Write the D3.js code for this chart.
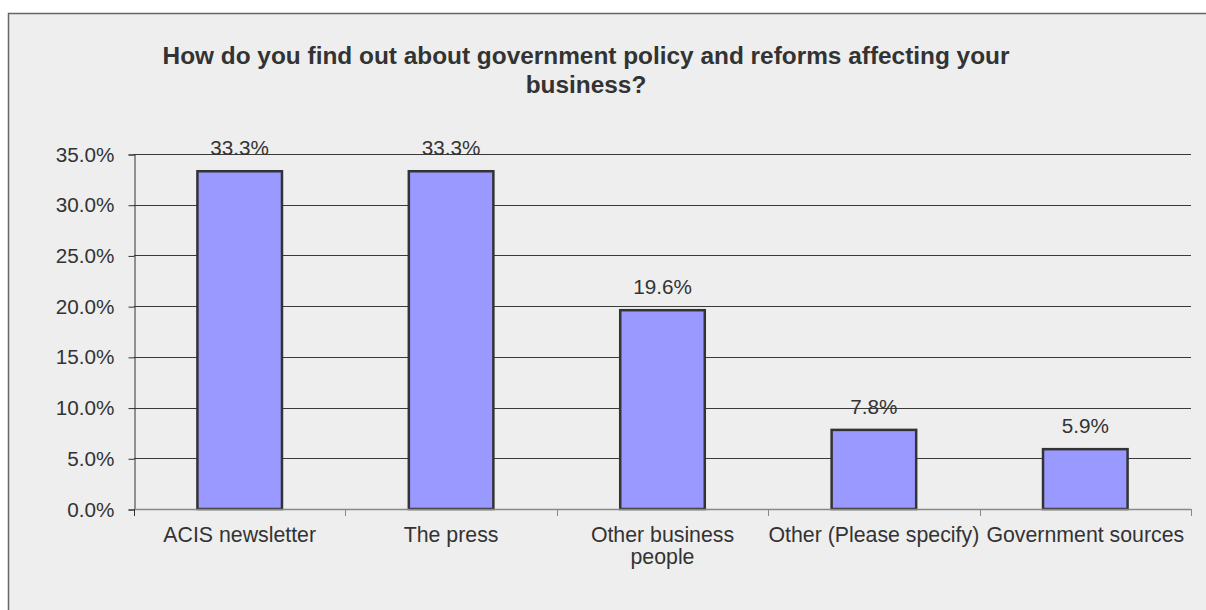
<!DOCTYPE html>
<html>
<head>
<meta charset="utf-8">
<script src="https://cdn.jsdelivr.net/npm/d3@7"></script>
<style>
  html, body { margin: 0; padding: 0; background: #ffffff; }
  svg { display: block; }
  text { font-family: "Liberation Sans", Arial, sans-serif; fill: #333333; }
</style>
</head>
<body>
<svg id="chart" width="1206" height="610"></svg>
<script>
// Survey responses: share of respondents per information source
const categories = ["ACIS newsletter", "The press", "Other business people", "Other (Please specify)", "Government sources"];
const categoryLines = [["ACIS newsletter"], ["The press"], ["Other business", "people"], ["Other (Please specify)"], ["Government sources"]];
const shares = [33.3, 33.3, 19.6, 7.8, 5.9];
const yTicks = [0, 5, 10, 15, 20, 25, 30, 35];
const titleLines = ["How do you find out about government policy and reforms affecting your", "business?"];

const svg = d3.select("#chart");
const W = 1206, H = 610;

// Chart area panel
svg.append("rect")
  .attr("x", 8.5).attr("y", 13.5)
  .attr("width", W + 10).attr("height", H + 10)
  .attr("fill", "#eeeeee")
  .attr("stroke", "#666666").attr("stroke-width", 1.5);

const plot = { left: 134, right: 1191, top: 154, bottom: 509 };

const x = d3.scaleBand()
  .domain(categories)
  .range([plot.left, plot.right])
  .paddingInner(0.6).paddingOuter(0.3);

const y = d3.scaleLinear()
  .domain([0, 35])
  .range([plot.bottom, plot.top]);

// Horizontal gridlines
svg.append("g")
  .selectAll("line")
  .data(yTicks.filter(t => t > 0))
  .join("line")
  .attr("x1", plot.left).attr("x2", plot.right)
  .attr("y1", d => Math.round(y(d)) + 0.5).attr("y2", d => Math.round(y(d)) + 0.5)
  .attr("stroke", "#3a3a3a").attr("stroke-width", 1);

// Y axis
const yAxis = d3.axisLeft(y)
  .tickValues(yTicks)
  .tickFormat(d => d.toFixed(1) + "%")
  .tickSize(6).tickPadding(14);
const gy = svg.append("g")
  .attr("transform", `translate(${plot.left + 0.5},0.5)`)
  .call(yAxis);
gy.select(".domain").attr("stroke", "#333333");
gy.selectAll(".tick line").attr("stroke", "#333333");
gy.selectAll(".tick text")
  .style("font-family", '"Liberation Sans", Arial, sans-serif')
  .style("font-size", "20.7px").attr("fill", "#333333");

// Bars
svg.append("g")
  .selectAll("rect")
  .data(categories.map((c, i) => ({ c, v: shares[i] })))
  .join("rect")
  .attr("x", d => x(d.c))
  .attr("y", d => y(d.v))
  .attr("width", x.bandwidth())
  .attr("height", d => y(0) - y(d.v))
  .attr("fill", "#9999ff")
  .attr("stroke", "#333333").attr("stroke-width", 2.5);

// X axis line and category separators
const step = x.step();
const xb = svg.append("g");
xb.append("line")
  .attr("x1", plot.left).attr("x2", plot.right)
  .attr("y1", plot.bottom + 0.5).attr("y2", plot.bottom + 0.5)
  .attr("stroke", "#888888").attr("stroke-width", 1.5);
xb.selectAll("line.sep")
  .data(d3.range(categories.length + 1))
  .join("line")
  .attr("class", "sep")
  .attr("x1", i => Math.round(plot.left + i * step) + 0.5)
  .attr("x2", i => Math.round(plot.left + i * step) + 0.5)
  .attr("y1", plot.bottom).attr("y2", plot.bottom + 7)
  .attr("stroke", i => i === 0 ? "#333333" : "#888888");

// Category labels
const cl = svg.append("g")
  .selectAll("text")
  .data(categories)
  .join("text")
  .attr("x", d => x(d) + x.bandwidth() / 2)
  .attr("y", 542)
  .attr("text-anchor", "middle")
  .style("font-size", "21.3px");
cl.selectAll("tspan")
  .data((d, i) => categoryLines[i])
  .join("tspan")
  .attr("x", function () { return d3.select(this.parentNode).attr("x"); })
  .attr("dy", (d, j) => j === 0 ? 0 : 22)
  .text(d => d);

// Value labels
svg.append("g")
  .selectAll("text")
  .data(categories.map((c, i) => ({ c, v: shares[i] })))
  .join("text")
  .attr("x", d => x(d.c) + x.bandwidth() / 2)
  .attr("y", d => y(d.v) - 16)
  .attr("text-anchor", "middle")
  .style("font-size", "20.7px")
  .text(d => d.v.toFixed(1) + "%");

// Title
svg.append("text")
  .attr("x", 586).attr("y", 64)
  .attr("text-anchor", "middle")
  .style("font-size", "24.4px").style("font-weight", "bold")
  .selectAll("tspan")
  .data(titleLines)
  .join("tspan")
  .attr("x", 586)
  .attr("dy", (d, i) => i === 0 ? 0 : 29)
  .text(d => d);
</script>
</body>
</html>
